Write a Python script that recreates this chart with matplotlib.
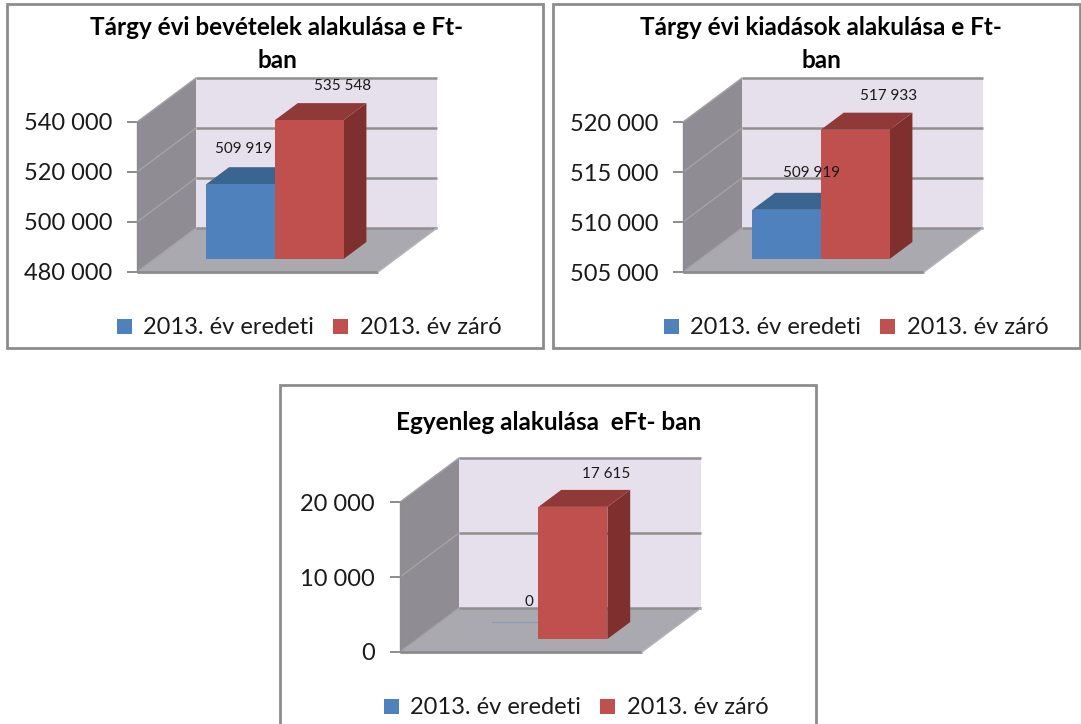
import matplotlib
matplotlib.use("Agg")
import matplotlib.pyplot as plt
from matplotlib.patches import Patch, Polygon, Rectangle

W, H = 1081, 724

plt.rcParams['font.family'] = ['Lato', 'DejaVu Sans']

series_names = ["2013. év eredeti", "2013. év záró"]

titles = [
    "Tárgy évi bevételek alakulása e Ft-\nban",
    "Tárgy évi kiadások alakulása e Ft-\nban",
    "Egyenleg alakulása  eFt- ban",
]

income_values = [509919, 535548]
expense_values = [509919, 517933]
balance_values = [0, 17615]

income_ticks = [480000, 500000, 520000, 540000]
expense_ticks = [505000, 510000, 515000, 520000]
balance_ticks = [0, 10000, 20000]

# pixel layout of each chart, measured on the picture
# frame, front plane of the plot box, depth in x, title, legend, label offsets
layouts = [
    dict(frame=(7, 4, 543, 348), box=(137, 122, 378, 272), depth=59,
         title=(277, 44), legend=(309, 328), offs=[(3, 35), (33, 34)]),
    dict(frame=(553, 4, 1080, 348), box=(683, 122, 924, 272), depth=59,
         title=(821, 44), legend=(856, 328), offs=[(25, 37), (33, 34)]),
    dict(frame=(280, 385, 816, 740), box=(400, 502, 642, 652), depth=59,
         title=(549, 423), legend=(576, 708), offs=[(25, 37), (33, 33)]),
]

BLUE = ("#4f81bd", "#3b6591", "#3b6591")
RED = ("#c0504d", "#8f3a38", "#7f2f2e")
BAR_W = 0.285
DEPTH_Y = 44 / 150
D0, D1 = 13 / 44, 30 / 44

fig = plt.figure(figsize=(W / 100, H / 100), dpi=100, facecolor="white")


def draw_chart(layout, title, values, ticks):
    x0, y0, x1, y1 = layout["box"]
    ax = fig.add_axes([x0 / W, 1 - y1 / H, (x1 - x0) / W, (y1 - y0) / H])
    ax.set_xlim(0, 1)
    ax.set_ylim(ticks[0], ticks[-1])
    ax.patch.set_visible(False)
    for s in ax.spines.values():
        s.set_visible(False)

    lo, hi = ticks[0], ticks[-1]
    dx = layout["depth"] / (x1 - x0)
    dy = DEPTH_Y * (hi - lo)

    def pt(x, v, d):
        return (x + d * dx, v + d * dy)

    def poly(pts, color, z, edge="none"):
        ax.add_patch(Polygon(pts, closed=True, facecolor=color, edgecolor=edge,
                             lw=0.6, zorder=z, clip_on=False))

    # walls and floor
    poly([pt(0, lo, 0), pt(0, lo, 1), pt(0, hi, 1), pt(0, hi, 0)], "#8f8d93", 1)
    poly([pt(0, lo, 1), pt(1, lo, 1), pt(1, hi, 1), pt(0, hi, 1)], "#e6e0ec", 1)
    poly([pt(0, lo, 0), pt(1, lo, 0), pt(1, lo, 1), pt(0, lo, 1)], "#aba9b0", 1)

    # gridlines, back wall and side wall
    for t in ticks:
        a, b, c = pt(0, t, 0), pt(0, t, 1), pt(1, t, 1)
        ax.plot([b[0], c[0]], [b[1], c[1]], color="#8f8f8f", lw=1.8, zorder=2,
                clip_on=False, solid_capstyle="butt")
        ax.plot([a[0], b[0]], [a[1], b[1]], color="#a3a3a6", lw=1, zorder=2,
                clip_on=False)
    ax.plot([pt(0, lo, 0)[0], pt(1, lo, 0)[0]], [lo, lo], color="#8c8c8c", lw=2,
            zorder=3, clip_on=False, solid_capstyle="butt")
    ax.plot([pt(1, lo, 0)[0], pt(1, lo, 1)[0]], [lo, pt(1, lo, 1)[1]],
            color="#b5b5b8", lw=1, zorder=3, clip_on=False)
    ax.plot([0, 0], [lo, hi], color="#8c8c8c", lw=1, zorder=3, clip_on=False)

    # bars
    for i, (v, cols) in enumerate(zip(values, (BLUE, RED))):
        a = 0.5 - BAR_W + i * BAR_W
        b = a + BAR_W
        if v <= lo:
            # empty bar, only the back edge shows
            p, q = pt(a, lo, D1), pt(b, lo, D1)
            ax.plot([p[0], q[0]], [p[1], q[1]], color="#8c9ab5", lw=0.8,
                    zorder=4, clip_on=False)
        else:
            poly([pt(b, lo, D0), pt(b, lo, D1), pt(b, v, D1), pt(b, v, D0)],
                 cols[2], 4 + i)
            poly([pt(a, v, D0), pt(b, v, D0), pt(b, v, D1), pt(a, v, D1)],
                 cols[1], 4 + i)
            poly([pt(a, lo, D0), pt(b, lo, D0), pt(b, v, D0), pt(a, v, D0)],
                 cols[0], 4 + i)
        top = pt((a + b) / 2, max(v, lo), D0)
        label = f"{v:,}".replace(",", " ")
        ax.annotate(label, xy=top, xytext=layout["offs"][i],
                    textcoords="offset pixels", ha="center", va="center",
                    fontsize=11, color="#1a1a1a", zorder=10,
                    annotation_clip=False)

    # value axis
    ax.set_xticks([])
    ax.set_yticks(ticks)
    ax.set_yticklabels([f"{t:,}".replace(",", " ") for t in ticks])
    ax.tick_params(axis="y", length=7, width=1.4, color="#8c8c8c", pad=11,
                   labelsize=17, labelcolor="#1a1a1a")

    # frame of the chart
    fx0, fy0, fx1, fy1 = layout["frame"]
    fig.add_artist(Rectangle((fx0 / W, 1 - fy1 / H), (fx1 - fx0) / W, (fy1 - fy0) / H,
                             transform=fig.transFigure, facecolor="none",
                             edgecolor="#8c8c8c", lw=2, clip_on=True))

    tx, ty = layout["title"]
    fig.text(tx / W, 1 - ty / H, title, ha="center", va="center", fontsize=17.5,
             fontweight="bold", color="black", linespacing=1.49)

    lx, ly = layout["legend"]
    handles = [Patch(facecolor=BLUE[0], label=series_names[0]),
               Patch(facecolor=RED[0], label=series_names[1])]
    fig.legend(handles=handles, loc="center", ncols=2, frameon=False,
               bbox_to_anchor=(lx / W, 1 - ly / H), fontsize=17,
               handlelength=0.62, handleheight=0.62, handletextpad=0.5,
               columnspacing=0.8, labelcolor="#1a1a1a", borderpad=0, borderaxespad=0)


draw_chart(layouts[0], titles[0], income_values, income_ticks)
draw_chart(layouts[1], titles[1], expense_values, expense_ticks)
draw_chart(layouts[2], titles[2], balance_values, balance_ticks)

fig.savefig("out.png", dpi=100, facecolor="white")
